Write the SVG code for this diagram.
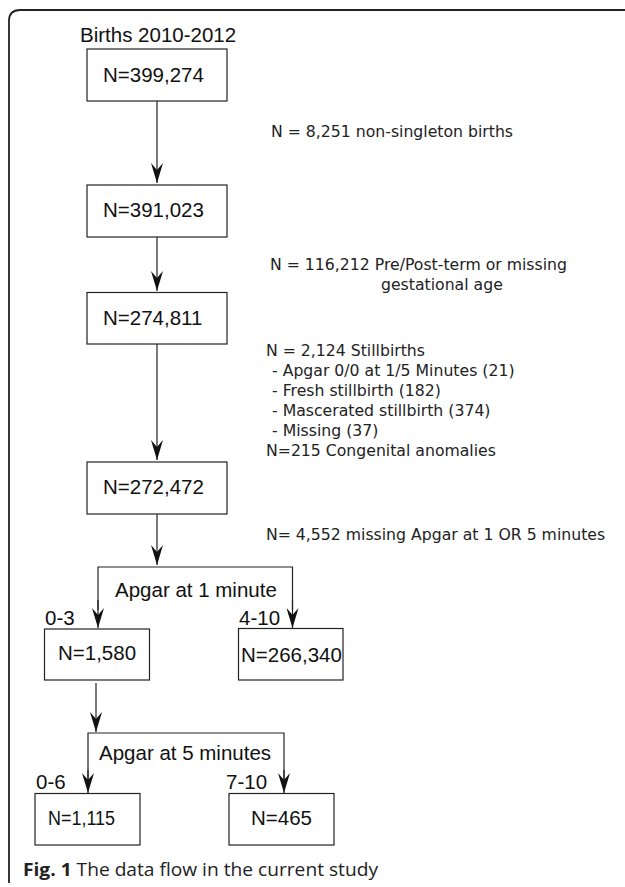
<svg xmlns="http://www.w3.org/2000/svg" width="625" height="887" viewBox="0 0 625 887">
<style>
.box{fill:#fff;stroke:#222;stroke-width:1.2}
.lbl{font-family:"Liberation Sans",Arial,sans-serif;font-size:20.5px;fill:#111}
.note{font-family:"DejaVu Sans",sans-serif;font-size:15.7px;fill:#222}
.ln{fill:none;stroke:#222;stroke-width:1.2}
.cap{font-family:"Open Sans",Lato,sans-serif;font-size:18.5px;fill:#222}
</style>
<defs>
<marker id="ah" markerUnits="userSpaceOnUse" markerWidth="20" markerHeight="12" viewBox="0 0 20 12" refX="20" refY="6" orient="auto">
<path d="M0,0 L20,6 L0,12 L7,6 Z" fill="#111"/>
</marker>
</defs>
<path d="M9,883 L9,21 Q9,10 20,10 L625,10" fill="none" stroke="#222" stroke-width="1.8"/>
<g id="connectors">
<line class="ln" x1="157" y1="101" x2="157" y2="183" marker-end="url(#ah)"/>
<line class="ln" x1="157" y1="237" x2="157" y2="291" marker-end="url(#ah)"/>
<line class="ln" x1="157" y1="344" x2="157" y2="460" marker-end="url(#ah)"/>
<line class="ln" x1="157" y1="514" x2="157" y2="565" marker-end="url(#ah)"/>
<path class="ln" d="M98,610 L98,567 L292.5,567 L292.5,610"/>
<line class="ln" x1="98" y1="600" x2="98" y2="628" marker-end="url(#ah)"/>
<line class="ln" x1="292.5" y1="600" x2="292.5" y2="628" marker-end="url(#ah)"/>
<line class="ln" x1="96" y1="683" x2="96" y2="732" marker-end="url(#ah)"/>
<path class="ln" d="M88,780 L88,733 L284,733 L284,780"/>
<line class="ln" x1="88" y1="770" x2="88" y2="793" marker-end="url(#ah)"/>
<line class="ln" x1="284" y1="770" x2="284" y2="793" marker-end="url(#ah)"/>
</g>
<g id="title"><text class="lbl" x="80" y="41.5">Births 2010-2012</text></g>
<g id="n1"><rect class="box" x="87" y="49" width="140" height="52"/><text class="lbl" x="103" y="81.5">N=399,274</text></g>
<g id="n2"><rect class="box" x="87" y="185" width="140" height="52"/><text class="lbl" x="103" y="217">N=391,023</text></g>
<g id="n3"><rect class="box" x="87" y="292.5" width="140" height="51.5"/><text class="lbl" x="103" y="324.5">N=274,811</text></g>
<g id="n4"><rect class="box" x="87" y="462" width="140" height="52"/><text class="lbl" x="103" y="493.5">N=272,472</text></g>
<g id="apgar1"><text class="lbl" x="115" y="597">Apgar at 1 minute</text></g>
<g id="n5"><text class="lbl" x="45" y="625" font-size="20">0-3</text><rect class="box" x="44.5" y="629" width="105" height="51"/><text class="lbl" x="58" y="659.5">N=1,580</text></g>
<g id="n6"><text class="lbl" x="239" y="625" font-size="20">4-10</text><rect class="box" x="238.5" y="628.5" width="104.5" height="51.5"/><text class="lbl" x="241" y="661.5">N=266,340</text></g>
<g id="apgar5"><text class="lbl" x="99" y="760">Apgar at 5 minutes</text></g>
<g id="n7"><text class="lbl" x="36" y="789" font-size="20">0-6</text><rect class="box" x="35" y="793.5" width="105" height="51.5"/><text class="lbl" x="48" y="825" textLength="67" lengthAdjust="spacingAndGlyphs">N=1,115</text></g>
<g id="n8"><text class="lbl" x="226" y="789">7-10</text><rect class="box" x="229" y="793.5" width="105" height="51.5"/><text class="lbl" x="281.5" y="825" text-anchor="middle">N=465</text></g>
<g id="notes">
<text class="note" x="271" y="137">N = 8,251 non-singleton births</text>
<text class="note" x="270" y="270">N = 116,212 Pre/Post-term or missing</text>
<text class="note" x="381" y="289.5">gestational age</text>
<text class="note" x="266" y="356">N = 2,124 Stillbirths</text>
<text class="note" x="272" y="375.5"> - Apgar 0/0 at 1/5 Minutes (21)</text>
<text class="note" x="272" y="395.5"> - Fresh stillbirth (182)</text>
<text class="note" x="272" y="415.5"> - Mascerated stillbirth (374)</text>
<text class="note" x="272" y="435.5"> - Missing (37)</text>
<text class="note" x="266" y="455.5">N=215 Congenital anomalies</text>
<text class="note" x="266" y="540">N= 4,552 missing Apgar at 1 OR 5 minutes</text>
</g>
<text class="cap" x="23" y="876" textLength="355" lengthAdjust="spacingAndGlyphs"><tspan font-weight="bold">Fig. 1</tspan> The data flow in the current study</text>
</svg>
